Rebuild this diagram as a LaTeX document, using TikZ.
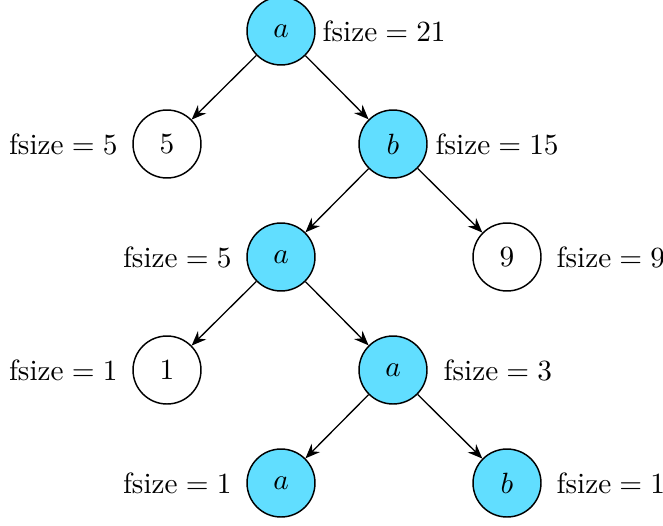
\documentclass[tikz,border=0pt]{standalone}
\usetikzlibrary{arrows.meta}
\definecolor{nodecyan}{RGB}{97,222,255}
\tikzset{
  tn/.style={circle,draw=black,line width=0.5pt,minimum size=23.2pt,inner sep=0pt},
  filled/.style={tn,fill=nodecyan},
  plain/.style={tn,fill=white},
  lab/.style={inner sep=0pt},
  edge/.style={-{Stealth[length=5pt,width=4pt]},line width=0.45pt}
}
\begin{document}
\begin{tikzpicture}[x=0.3413pt,y=-0.3413pt]
\useasboundingbox (0,0) rectangle (663,525);
\node[filled] (r) at (281,31) {$a$};
\node[plain] (n5) at (167,144) {$5$};
\node[filled] (b1) at (393,144) {$b$};
\node[filled] (a2) at (281,257) {$a$};
\node[plain] (n9) at (507,257) {$9$};
\node[plain] (n1) at (167,370) {$1$};
\node[filled] (a3) at (393,370) {$a$};
\node[filled] (a4) at (281,483) {$a$};
\node[filled] (b4) at (507,483) {$b$};
\node[lab,anchor=west] (lr) at (322,31) {fsize${}={}$21};
\node[lab,anchor=east] (l5) at (118,144) {fsize${}={}$5};
\node[lab,anchor=west] (lb1) at (435,144) {fsize${}={}$15};
\node[lab,anchor=east] (la2) at (232,257) {fsize${}={}$5};
\node[lab,anchor=west] (l9) at (556,257) {fsize${}={}$9};
\node[lab,anchor=east] (l1) at (118,370) {fsize${}={}$1};
\node[lab,anchor=west] (la3) at (443,370) {fsize${}={}$3};
\node[lab,anchor=east] (la4) at (232,483) {fsize${}={}$1};
\node[lab,anchor=west] (lb4) at (556,483) {fsize${}={}$1};
\draw[edge] (r) -- (n5);
\draw[edge] (r) -- (b1);
\draw[edge] (b1) -- (a2);
\draw[edge] (b1) -- (n9);
\draw[edge] (a2) -- (n1);
\draw[edge] (a2) -- (a3);
\draw[edge] (a3) -- (a4);
\draw[edge] (a3) -- (b4);
\end{tikzpicture}
\end{document}
